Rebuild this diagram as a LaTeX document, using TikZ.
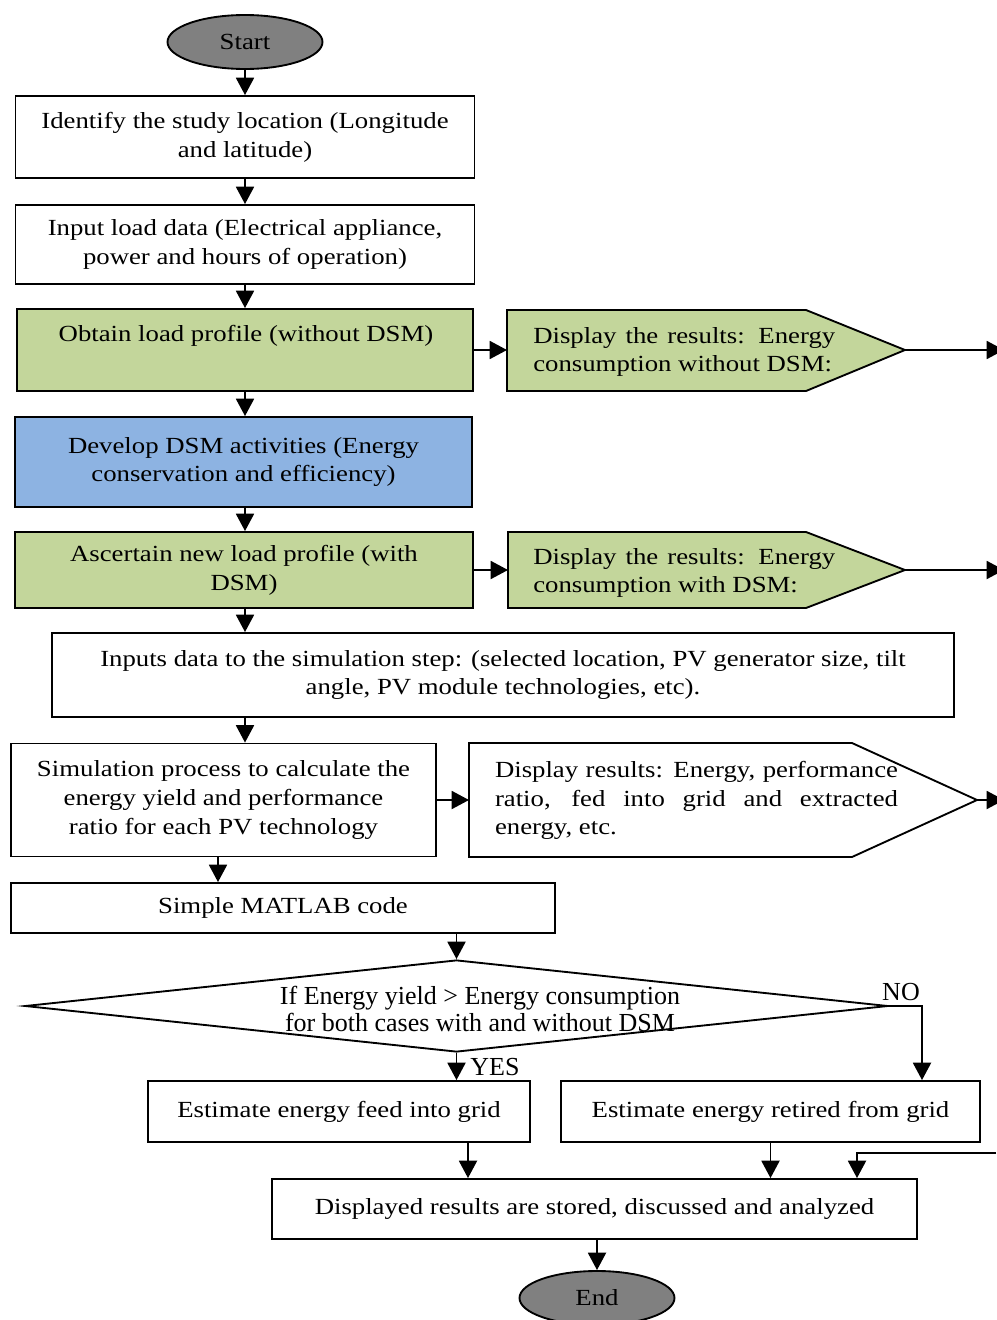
\documentclass[tikz,border=0pt]{standalone}
\usepackage{fontspec}
\setmainfont{Liberation Serif}[FakeStretch=1.16]
\newfontfamily\diafont{Liberation Serif}
\usetikzlibrary{shapes.geometric,arrows.meta}
\newdimen\pxu \pxu=0.75pt
\definecolor{boxgreen}{HTML}{C3D69B}
\definecolor{boxblue}{HTML}{8DB3E2}
\definecolor{termgray}{HTML}{808080}
\newcommand\mainsz{\fontsize{17.3}{21.6}\selectfont}
\begin{document}
\begin{tikzpicture}[x=0.75pt,y=-0.75pt,
  box/.style={draw, line width=1.4pt, inner sep=0pt, align=center, font=\mainsz},
  term/.style={ellipse, draw, line width=1.4pt, fill=termgray, font=\mainsz, inner sep=0pt},
  shapeline/.style={draw, line width=1.4pt, line join=miter},
  txt/.style={font=\mainsz, inner sep=0pt, align=center},
  jtxt/.style={font=\mainsz, inner sep=0pt, align=justify},
  arr/.style={line width=1.4pt, -{Triangle[length=13pt,width=13.5pt]}},
  lbl/.style={font=\diafont\fontsize{19.5}{20.3}\selectfont, inner sep=0pt, align=center}
]
\useasboundingbox (0,0) rectangle (996,1320);

% terminals
\node[term, minimum width=155\pxu, minimum height=54\pxu] (start) at (245,42) {Start};
\node[term, minimum width=155\pxu, minimum height=54\pxu] (end) at (597,1298) {End};

% main boxes
\node[box, minimum width=459\pxu, minimum height=82\pxu] (b1) at (245,137)
  {Identify the study location (Longitude\\and latitude)};
\node[box, minimum width=459\pxu, minimum height=79\pxu] (b2) at (245,244.5)
  {Input load data (Electrical appliance,\\power and hours of operation)};
\node[box, fill=boxgreen, minimum width=456\pxu, minimum height=82\pxu] (b3) at (245,350) {};
\node[txt] (b3t) at (246,336) {Obtain load profile (without DSM)};
\node[box, fill=boxblue, minimum width=457\pxu, minimum height=90\pxu] (b4) at (243.5,462)
  {Develop DSM activities (Energy\\conservation and efficiency)};
\node[box, fill=boxgreen, minimum width=458\pxu, minimum height=76\pxu] (b5) at (244,570)
  {Ascertain new load profile (with\\DSM)};
\node[box, minimum width=902\pxu, minimum height=84\pxu] (b6) at (503,675)
  {Inputs data to the simulation step: (selected location, PV generator size, tilt\\angle, PV module technologies, etc).};
\node[box, minimum width=425\pxu, minimum height=113\pxu] (b7) at (223.5,800)
  {Simulation process to calculate the\\energy yield and performance\\ratio for each PV technology};
\node[box, minimum width=544\pxu, minimum height=50\pxu] (b8) at (283,908) {Simple MATLAB code};
\node[diamond, draw, line width=1.4pt, inner sep=0pt, minimum width=863\pxu, minimum height=92\pxu] (dia) at (456.5,1006) {};
\node[lbl] (diat) at (480,1008.5) {If Energy yield > Energy consumption\\for both cases with and without DSM};
\node[box, minimum width=382\pxu, minimum height=61\pxu] (b9) at (339,1111.5) {Estimate energy feed into grid};
\node[box, minimum width=419\pxu, minimum height=61\pxu] (b10) at (770.5,1111.5) {Estimate energy retired from grid};
\node[box, minimum width=645\pxu, minimum height=60\pxu] (b11) at (594.5,1209) {Displayed results are stored, discussed and analyzed};

% display (pentagon) shapes
\draw[shapeline, fill=boxgreen] (507,310) -- (806,310) -- (905,350) -- (806,391) -- (507,391) -- cycle;
\coordinate (d1w) at (507,350); \coordinate (d1e) at (905,350);
\node[jtxt, text width=226.5pt, anchor=west] (d1t) at (533,352) {Display the results: Energy\linebreak consumption without DSM:};

\draw[shapeline, fill=boxgreen] (508,532) -- (806,532) -- (905,570) -- (806,608) -- (508,608) -- cycle;
\coordinate (d2w) at (508,570); \coordinate (d2e) at (905,570);
\node[jtxt, text width=226.5pt, anchor=west] (d2t) at (533,573) {Display the results: Energy\linebreak consumption with DSM:};

\draw[shapeline] (469,743) -- (852,743) -- (977,800) -- (852,857) -- (469,857) -- cycle;
\coordinate (d3w) at (469,800); \coordinate (d3e) at (977,800);
\node[jtxt, text width=302.25pt] (d3t) at (696.5,800.5) {Display results: Energy, performance\linebreak ratio, fed into grid and extracted\linebreak energy, etc.};

% free ends and columns
\coordinate (r1) at (1004,350);
\coordinate (r2) at (1004,570);
\coordinate (r3) at (1004,800);
\coordinate (rin) at (996,1153);
\coordinate (colx) at (245,0);
\coordinate (x7) at (218,0);
\coordinate (nox) at (922,0);
\coordinate (x9) at (468,0);
\coordinate (x11) at (857,0);

% labels
\node[lbl] (no) at (901,992) {NO};
\node[lbl] (yes) at (495,1067) {YES};

% connectors
\draw[arr] (start.south) -- (colx |- b1.north);
\draw[arr] (colx |- b1.south) -- (colx |- b2.north);
\draw[arr] (colx |- b2.south) -- (colx |- b3.north);
\draw[arr] (colx |- b3.south) -- (colx |- b4.north);
\draw[arr] (colx |- b4.south) -- (colx |- b5.north);
\draw[arr] (colx |- b5.south) -- (colx |- b6.north);
\draw[arr] (colx |- b6.south) -- (colx |- b7.north);
\draw[arr] (x7 |- b7.south) -- (x7 |- b8.north);
\draw[arr] (dia.north |- b8.south) -- (dia.north);
\draw[arr] (b3.east) -- (d1w);
\draw[arr] (d1e) -- (r1);
\draw[arr] (b5.east) -- (d2w);
\draw[arr] (d2e) -- (r2);
\draw[arr] (b7.east) -- (d3w);
\draw[arr] (d3e) -- (r3);
\draw[arr] (dia.south) -- (dia.south |- b9.north);
\draw[arr] (dia.east) -| (nox |- b10.north);
\draw[arr] (x9 |- b9.south) -- (x9 |- b11.north);
\draw[arr] (b10.south) -- (b10.south |- b11.north);
\draw[arr] (rin) -| (x11 |- b11.north);
\draw[arr] (end.north |- b11.south) -- (end.north);
\end{tikzpicture}
\end{document}
